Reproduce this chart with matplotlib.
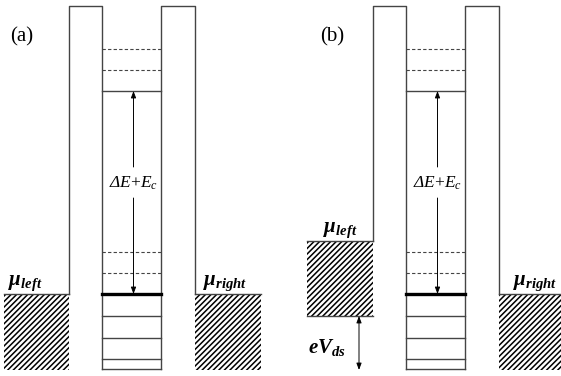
import matplotlib
matplotlib.use("Agg")
import matplotlib.pyplot as plt
from matplotlib.patches import Rectangle

plt.rcParams['mathtext.fontset'] = 'custom'
plt.rcParams['mathtext.rm'] = 'Liberation Serif'
plt.rcParams['mathtext.it'] = 'Liberation Serif:italic'
plt.rcParams['mathtext.cal'] = 'Liberation Serif:italic'
plt.rcParams['mathtext.bf'] = 'Liberation Serif:bold:italic'
plt.rcParams['hatch.linewidth'] = 1.1

# ---- diagram values (pixel-like energy scale, y grows downward) ----
panels = ['(a)', '(b)']
panel_x0 = [0, 304]                 # horizontal offset of each panel
barrier_top = 6
well_bottom = 369
dashed_levels = [49, 70, 252, 273]
upper_level = 91                    # first empty level above gap
ground_level = 294                  # thick level (highest occupied)
filled_levels = [316, 338, 359]
mu_left = [294, 241]                # left reservoir chemical potential per panel
mu_right = [294, 294]
reservoir_bottom = 370
# x-extents inside a panel
res_left_x = [4, 69]
barrier_l_x = [69, 102]
barrier_r_x = [161, 195]
res_right_x = [195, 261]
res_left_x_b = [307, 373]

LC = '#444444'

fig = plt.figure(figsize=(5.61, 3.76), dpi=100)
ax = fig.add_axes([0, 0, 1, 1])
ax.set_xlim(0, 561)
ax.set_ylim(376, 0)
ax.axis('off')

for i, (lab, x0) in enumerate(zip(panels, panel_x0)):
    bl0, bl1 = barrier_l_x[0] + x0, barrier_l_x[1] + x0
    br0, br1 = barrier_r_x[0] + x0, barrier_r_x[1] + x0
    ml, mr = mu_left[i], mu_right[i]
    # barrier outlines
    ax.plot([bl0, bl0, bl1, bl1], [ml, barrier_top, barrier_top, well_bottom], color=LC, lw=1)
    ax.plot([br0, br0, br1, br1], [well_bottom, barrier_top, barrier_top, mr], color=LC, lw=1)
    # well levels
    ax.plot([bl1, br0], [well_bottom, well_bottom], color=LC, lw=1)
    for y in dashed_levels:
        ax.plot([bl1, br0], [y, y], color=LC, lw=0.8, ls=(0, (3, 2)))
    ax.plot([bl1, br0], [upper_level, upper_level], color=LC, lw=1)
    for y in filled_levels:
        ax.plot([bl1, br0], [y, y], color=LC, lw=1)
    ax.plot([bl1, br0], [ground_level, ground_level], color='black', lw=2.4)

    # reservoirs
    if i == 0:
        lx0, lx1 = res_left_x[0] + x0, res_left_x[1] + x0
        lbot = reservoir_bottom
    else:
        lx0, lx1 = res_left_x_b
        lbot = filled_levels[0]
    ax.add_patch(Rectangle((lx0, ml), lx1 - lx0, lbot - ml, facecolor='white',
                           edgecolor='black', lw=0, hatch='//////'))
    ax.plot([lx0, lx1], [ml, ml], color=LC, lw=1)
    if i == 1:
        ax.plot([lx0, lx1], [lbot, lbot], color=LC, lw=1)
    rx0 = res_right_x[0] + x0
    rx1 = min(res_right_x[1] + x0, 561)
    ax.add_patch(Rectangle((rx0, mr), rx1 - rx0, reservoir_bottom - mr, facecolor='white',
                           edgecolor='black', lw=0, hatch='//////'))
    ax.plot([rx0, rx1], [mr, mr], color=LC, lw=1)

    # gap arrow
    xc = (bl1 + br0) / 2 + 2
    ymid = 183
    ap = dict(arrowstyle='-|>,head_length=0.4,head_width=0.15', color='black', lw=0.7,
              shrinkA=0, shrinkB=0)
    ax.annotate('', xy=(xc, upper_level), xytext=(xc, ymid - 16), arrowprops=ap)
    ax.annotate('', xy=(xc, ground_level), xytext=(xc, ymid + 15), arrowprops=ap)
    ax.text(xc, ymid, r'$\mathcal{\Delta}\mathit{E}\mathrm{+}\mathit{E}_{\mathit{c}}$', fontsize=12.5,
            ha='center', va='center')

    # panel label
    ax.text(x0 + 22 if i == 0 else 332, 37, lab, fontsize=15, family='Liberation Serif',
            ha='center', va='center')

    # mu labels
    ax.text((lx0 + lx1) / 2 - 11 if i == 0 else (lx0 + lx1) / 2, ml - 11,
            r'$\mathbf{\mu_{left}}$', fontsize=15, ha='center', va='center')
    ax.text((rx0 + res_right_x[1] + x0) / 2 - 3 if i == 0 else 535, mr - 11,
            r'$\mathbf{\mu_{right}}$', fontsize=15, ha='center', va='center')

# eV_ds arrow in panel (b)
ap2 = dict(arrowstyle='<|-|>,head_length=0.4,head_width=0.15', color='black', lw=0.7,
           shrinkA=0, shrinkB=0)
ax.annotate('', xy=(359, filled_levels[0]), xytext=(359, reservoir_bottom), arrowprops=ap2)
ax.text(327, 347, r'$\mathbf{eV_{ds}}$', fontsize=15, ha='center', va='center')

fig.savefig('out.png', dpi=100)
